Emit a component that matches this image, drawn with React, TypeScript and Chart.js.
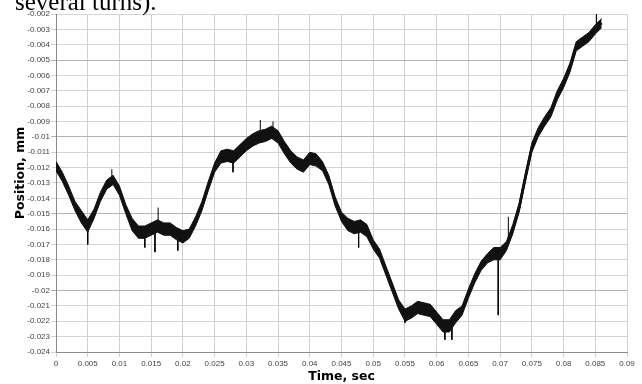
import React, { useEffect, useRef } from "react";
import { Chart, registerables } from "chart.js";

Chart.register(...registerables);

// Time axis samples (s)
const timeSec = [
  0.000, 0.001, 0.002, 0.003, 0.004, 0.005, 0.006, 0.007, 0.008, 0.009,
  0.010, 0.011, 0.012, 0.013, 0.014, 0.015, 0.016, 0.017, 0.018, 0.019,
  0.020, 0.021, 0.022, 0.023, 0.024, 0.025, 0.026, 0.027, 0.028, 0.029,
  0.030, 0.031, 0.032, 0.033, 0.034, 0.035, 0.036, 0.037, 0.038, 0.039,
  0.040, 0.041, 0.042, 0.043, 0.044, 0.045, 0.046, 0.047, 0.048, 0.049,
  0.050, 0.051, 0.052, 0.053, 0.054, 0.055, 0.056, 0.057, 0.058, 0.059,
  0.060, 0.061, 0.062, 0.063, 0.064, 0.065, 0.066, 0.067, 0.068, 0.069,
  0.070, 0.071, 0.072, 0.073, 0.074, 0.075, 0.076, 0.077, 0.078, 0.079,
  0.080, 0.081, 0.082, 0.083, 0.084, 0.085, 0.086,
];

// Position trace centre (mm)
const positionMm = [
  -0.0119, -0.0126, -0.0135, -0.0145, -0.0152, -0.0158, -0.0150, -0.0139, -0.0131, -0.0128,
  -0.0135, -0.0147, -0.0157, -0.0162, -0.0162, -0.0160, -0.0158, -0.0160, -0.0160, -0.0163,
  -0.0165, -0.0163, -0.0155, -0.0145, -0.0132, -0.0120, -0.0113, -0.0112, -0.0113, -0.0109,
  -0.0105, -0.0102, -0.0100, -0.0099, -0.0097, -0.0100, -0.0107, -0.0113, -0.0117, -0.0119,
  -0.0114, -0.0115, -0.0119, -0.0128, -0.0142, -0.0152, -0.0157, -0.0159, -0.0158, -0.0161,
  -0.0170, -0.0176, -0.0187, -0.0198, -0.0209, -0.0216, -0.0214, -0.0211, -0.0212, -0.0213,
  -0.0218, -0.0223, -0.0223, -0.0217, -0.0213, -0.0202, -0.0192, -0.0184, -0.0179, -0.0176,
  -0.0176, -0.0171, -0.0160, -0.0146, -0.0126, -0.0107, -0.0097, -0.0090, -0.0084, -0.0073,
  -0.0065, -0.0055, -0.0041, -0.0038, -0.0035, -0.0030, -0.0026,
];

// Half thickness of the noise band (mm)
const bandHalfWidth = [
  0.0003, 0.0003, 0.0003, 0.0003, 0.0004, 0.0004, 0.0003, 0.0003, 0.0003, 0.0003,
  0.0003, 0.0003, 0.0004, 0.0004, 0.0004, 0.0004, 0.0004, 0.0004, 0.0004, 0.0004,
  0.0004, 0.0003, 0.0003, 0.0003, 0.0003, 0.0003, 0.0004, 0.0004, 0.0004, 0.0004,
  0.0004, 0.0004, 0.0004, 0.0004, 0.0004, 0.0004, 0.0004, 0.0004, 0.0004, 0.0004,
  0.0004, 0.0004, 0.0003, 0.0003, 0.0003, 0.0003, 0.0004, 0.0004, 0.0004, 0.0004,
  0.0003, 0.0003, 0.0003, 0.0003, 0.0003, 0.0004, 0.0004, 0.0004, 0.0004, 0.0004,
  0.0004, 0.0004, 0.0004, 0.0004, 0.0003, 0.0003, 0.0003, 0.0003, 0.0003, 0.0004,
  0.0004, 0.0003, 0.0003, 0.0003, 0.0003, 0.0003, 0.0003, 0.0003, 0.0003, 0.0003,
  0.0003, 0.0003, 0.0003, 0.0003, 0.0003, 0.0003, 0.0003,
];

// Isolated noise spikes
const spikeTime = [0.0050, 0.0088, 0.0140, 0.0156, 0.0161, 0.0192, 0.0279, 0.0322, 0.0342, 0.0477, 0.0550, 0.0613, 0.0624, 0.0697, 0.0713, 0.0852];
const spikeBase = [-0.0158, -0.0128, -0.0162, -0.0159, -0.0159, -0.0163, -0.0113, -0.0100, -0.0097, -0.0158, -0.0216, -0.0223, -0.0223, -0.0176, -0.0168, -0.0031];
const spikeTip = [-0.0170, -0.0121, -0.0172, -0.0175, -0.0146, -0.0174, -0.0123, -0.0089, -0.0090, -0.0172, -0.0221, -0.0232, -0.0232, -0.0216, -0.0152, -0.0020];

const xMin = 0;
const xMax = 0.09;
const xStep = 0.005;
const yMin = -0.024;
const yMax = -0.002;
const yStep = 0.001;

const xTitle = "Time, sec";
const yTitle = "Position, mm";
const topText = "several turns).";

const fmt = (v: number | string) => {
  const n = typeof v === "number" ? v : parseFloat(v);
  return String(parseFloat(n.toFixed(4)));
};

const titleFontCss = "bold 12.5px 'DejaVu Sans', Verdana, sans-serif";

const yTitlePlugin = {
  id: "yTitlePlugin",
  afterDraw(chart: any) {
    const { ctx, chartArea } = chart;
    ctx.save();
    ctx.font = titleFontCss;
    ctx.fillStyle = "#000";
    ctx.textAlign = "center";
    ctx.textBaseline = "middle";
    ctx.translate(21, (chartArea.top + chartArea.bottom) / 2 - 10);
    ctx.rotate(-Math.PI / 2);
    ctx.fillText(yTitle, 0, 0);
    ctx.restore();
  },
};

export default function App() {
  const ref = useRef<HTMLCanvasElement | null>(null);

  useEffect(() => {
    if (!ref.current) return;
    const upper = timeSec.map((t, i) => ({ x: t, y: positionMm[i] + bandHalfWidth[i] }));
    const lower = timeSec.map((t, i) => ({ x: t, y: positionMm[i] - bandHalfWidth[i] }));
    const center = timeSec.map((t, i) => ({ x: t, y: positionMm[i] }));
    const spikes: { x: number; y: number | null }[] = [];
    spikeTime.forEach((t, i) => {
      spikes.push({ x: t, y: spikeBase[i] }, { x: t, y: spikeTip[i] }, { x: t, y: null });
    });

    const tickFont = { family: "'Liberation Sans', Arial, sans-serif", size: 8 };
    const titleFont = { family: "'DejaVu Sans', Verdana, sans-serif", size: 12.5, weight: "bold" as const };

    const chart = new Chart(ref.current, {
      type: "line",
      data: {
        datasets: [
          { label: "upper", data: upper, borderColor: "#111", borderWidth: 1, backgroundColor: "#111", fill: "+1", pointRadius: 0 },
          { label: "lower", data: lower, borderColor: "#111", borderWidth: 1, fill: false, pointRadius: 0 },
          { label: "Position", data: center, borderColor: "#000", borderWidth: 2.5, fill: false, pointRadius: 0 },
          { label: "spikes", data: spikes as any, borderColor: "#000", borderWidth: 1, fill: false, pointRadius: 0, spanGaps: false },
        ],
      },
      options: {
        responsive: false,
        animation: false,
        devicePixelRatio: 1,
        layout: { padding: { top: 14, right: 15, left: 0, bottom: 0 } },
        plugins: { legend: { display: false }, tooltip: { enabled: false } },
        scales: {
          x: {
            type: "linear",
            min: xMin,
            max: xMax,
            ticks: { stepSize: xStep, autoSkip: false, maxRotation: 0, padding: 2, color: "#444", font: tickFont, callback: (v: any) => fmt(v) },
            grid: { color: "#d0d0d0", lineWidth: 1, tickLength: 5, drawTicks: true },
            border: { color: "#8a8a8a", width: 1 },
            title: { display: true, text: xTitle, color: "#000", font: titleFont, padding: { top: 0, bottom: 0 } },
            afterFit: (s: any) => { s.height = 32; },
          },
          y: {
            type: "linear",
            min: yMin,
            max: yMax,
            ticks: { stepSize: yStep, autoSkip: false, padding: 1, color: "#444", font: tickFont, callback: (v: any) => fmt(v) },
            grid: {
              color: (ctx: any) => {
                const v = ctx.tick ? ctx.tick.value : 0;
                return Math.abs(Math.round(v * 1000)) % 5 === 0 ? "#b4b4b4" : "#d4d4d4";
              },
              lineWidth: 1,
              tickLength: 5,
              drawTicks: true,
            },
            border: { color: "#8a8a8a", width: 1 },
            title: { display: false, text: yTitle },
            afterFit: (s: any) => { s.width = 56; },
          },
        },
      },
      plugins: [yTitlePlugin],
    } as any);
    return () => chart.destroy();
  }, []);

  return (
    <div style={{ position: "fixed", left: 0, top: 0, width: 642, height: 384, background: "#fff", overflow: "hidden" }}>
      <canvas ref={ref} width={642} height={384} style={{ display: "block", width: 642, height: 384 }} />
      <div
        style={{
          position: "absolute",
          left: 15,
          top: -11,
          fontFamily: "'Liberation Serif', 'Times New Roman', serif",
          fontSize: 25,
          lineHeight: "25px",
          whiteSpace: "nowrap",
          color: "#000",
        }}
      >
        {topText}
      </div>
    </div>
  );
}
